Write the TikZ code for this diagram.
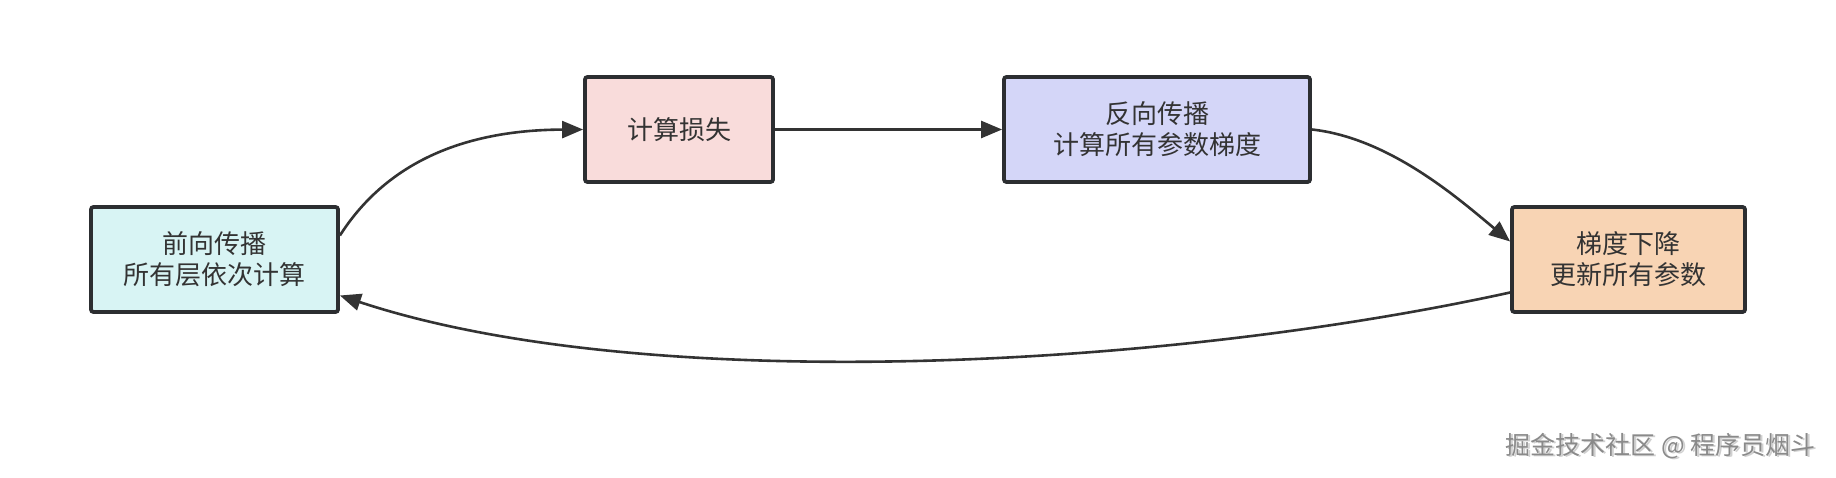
\documentclass[tikz,border=0pt]{standalone}
\usepackage{fontspec}
\newfontfamily\cjk{Noto Sans CJK SC}
\usetikzlibrary{arrows.meta,calc}
\definecolor{bordc}{HTML}{2C2E31}
\definecolor{txtc}{HTML}{333333}
\definecolor{edgec}{HTML}{333333}
\definecolor{cyanf}{HTML}{D8F4F4}
\definecolor{pinkf}{HTML}{F9DCDB}
\definecolor{bluef}{HTML}{D4D6F8}
\definecolor{orangef}{HTML}{F8D4B4}
\definecolor{wmc}{HTML}{8A8A8A}
\definecolor{wmsh}{HTML}{D0D0D0}
\tikzset{
  box/.style={draw=bordc, line width=3.8pt, rounded corners=2.5pt, inner sep=0pt,
    minimum height=105pt, align=center, text=txtc,
    font=\cjk\fontsize{26}{31}\selectfont},
  flow/.style={draw=edgec, line width=2.6pt, -{Triangle[length=21pt,width=17pt]}},
  wmark/.style={anchor=east, font=\cjk\fontsize{25}{28}\selectfont, inner sep=0pt},
}
\begin{document}
\begin{tikzpicture}[x=1pt,y=-1pt]
\useasboundingbox[fill=white] (0,0) rectangle (1836,478);
\node[box, fill=cyanf, minimum width=247pt] (fwd) at (214.5,259.5) {前向传播\\所有层依次计算};
\node[box, fill=pinkf, minimum width=188pt] (loss) at (679,129.5) {计算损失};
\node[box, fill=bluef, minimum width=306pt] (back) at (1157,129.5) {反向传播\\计算所有参数梯度};
\node[box, fill=orangef, minimum width=233pt] (gd) at (1628.5,259.5) {梯度下降\\更新所有参数};
\coordinate (s1) at ($(fwd.east)+(0,-24)$);
\coordinate (e3) at ($(gd.west)+(0,-18)$);
\coordinate (s4) at ($(gd.west)+(0,33)$);
\coordinate (e4) at ($(fwd.east)+(0,36)$);
\draw[flow] (s1) .. controls (385,165) and (460,130) .. (loss.west);
\draw[flow] (loss.east) -- (back.west);
\draw[flow] (back.east) .. controls (1390,138) and (1460,200) .. (e3);
\draw[flow] (s4) .. controls (1156,370) and (640,395) .. (e4);
\node[wmark, text=wmsh] (wmshadow) at (1817.5,447.5) {掘金技术社区 @ 程序员烟斗};
\node[wmark, text=wmc] (wm) at (1816,446) {掘金技术社区 @ 程序员烟斗};
\end{tikzpicture}
\end{document}
